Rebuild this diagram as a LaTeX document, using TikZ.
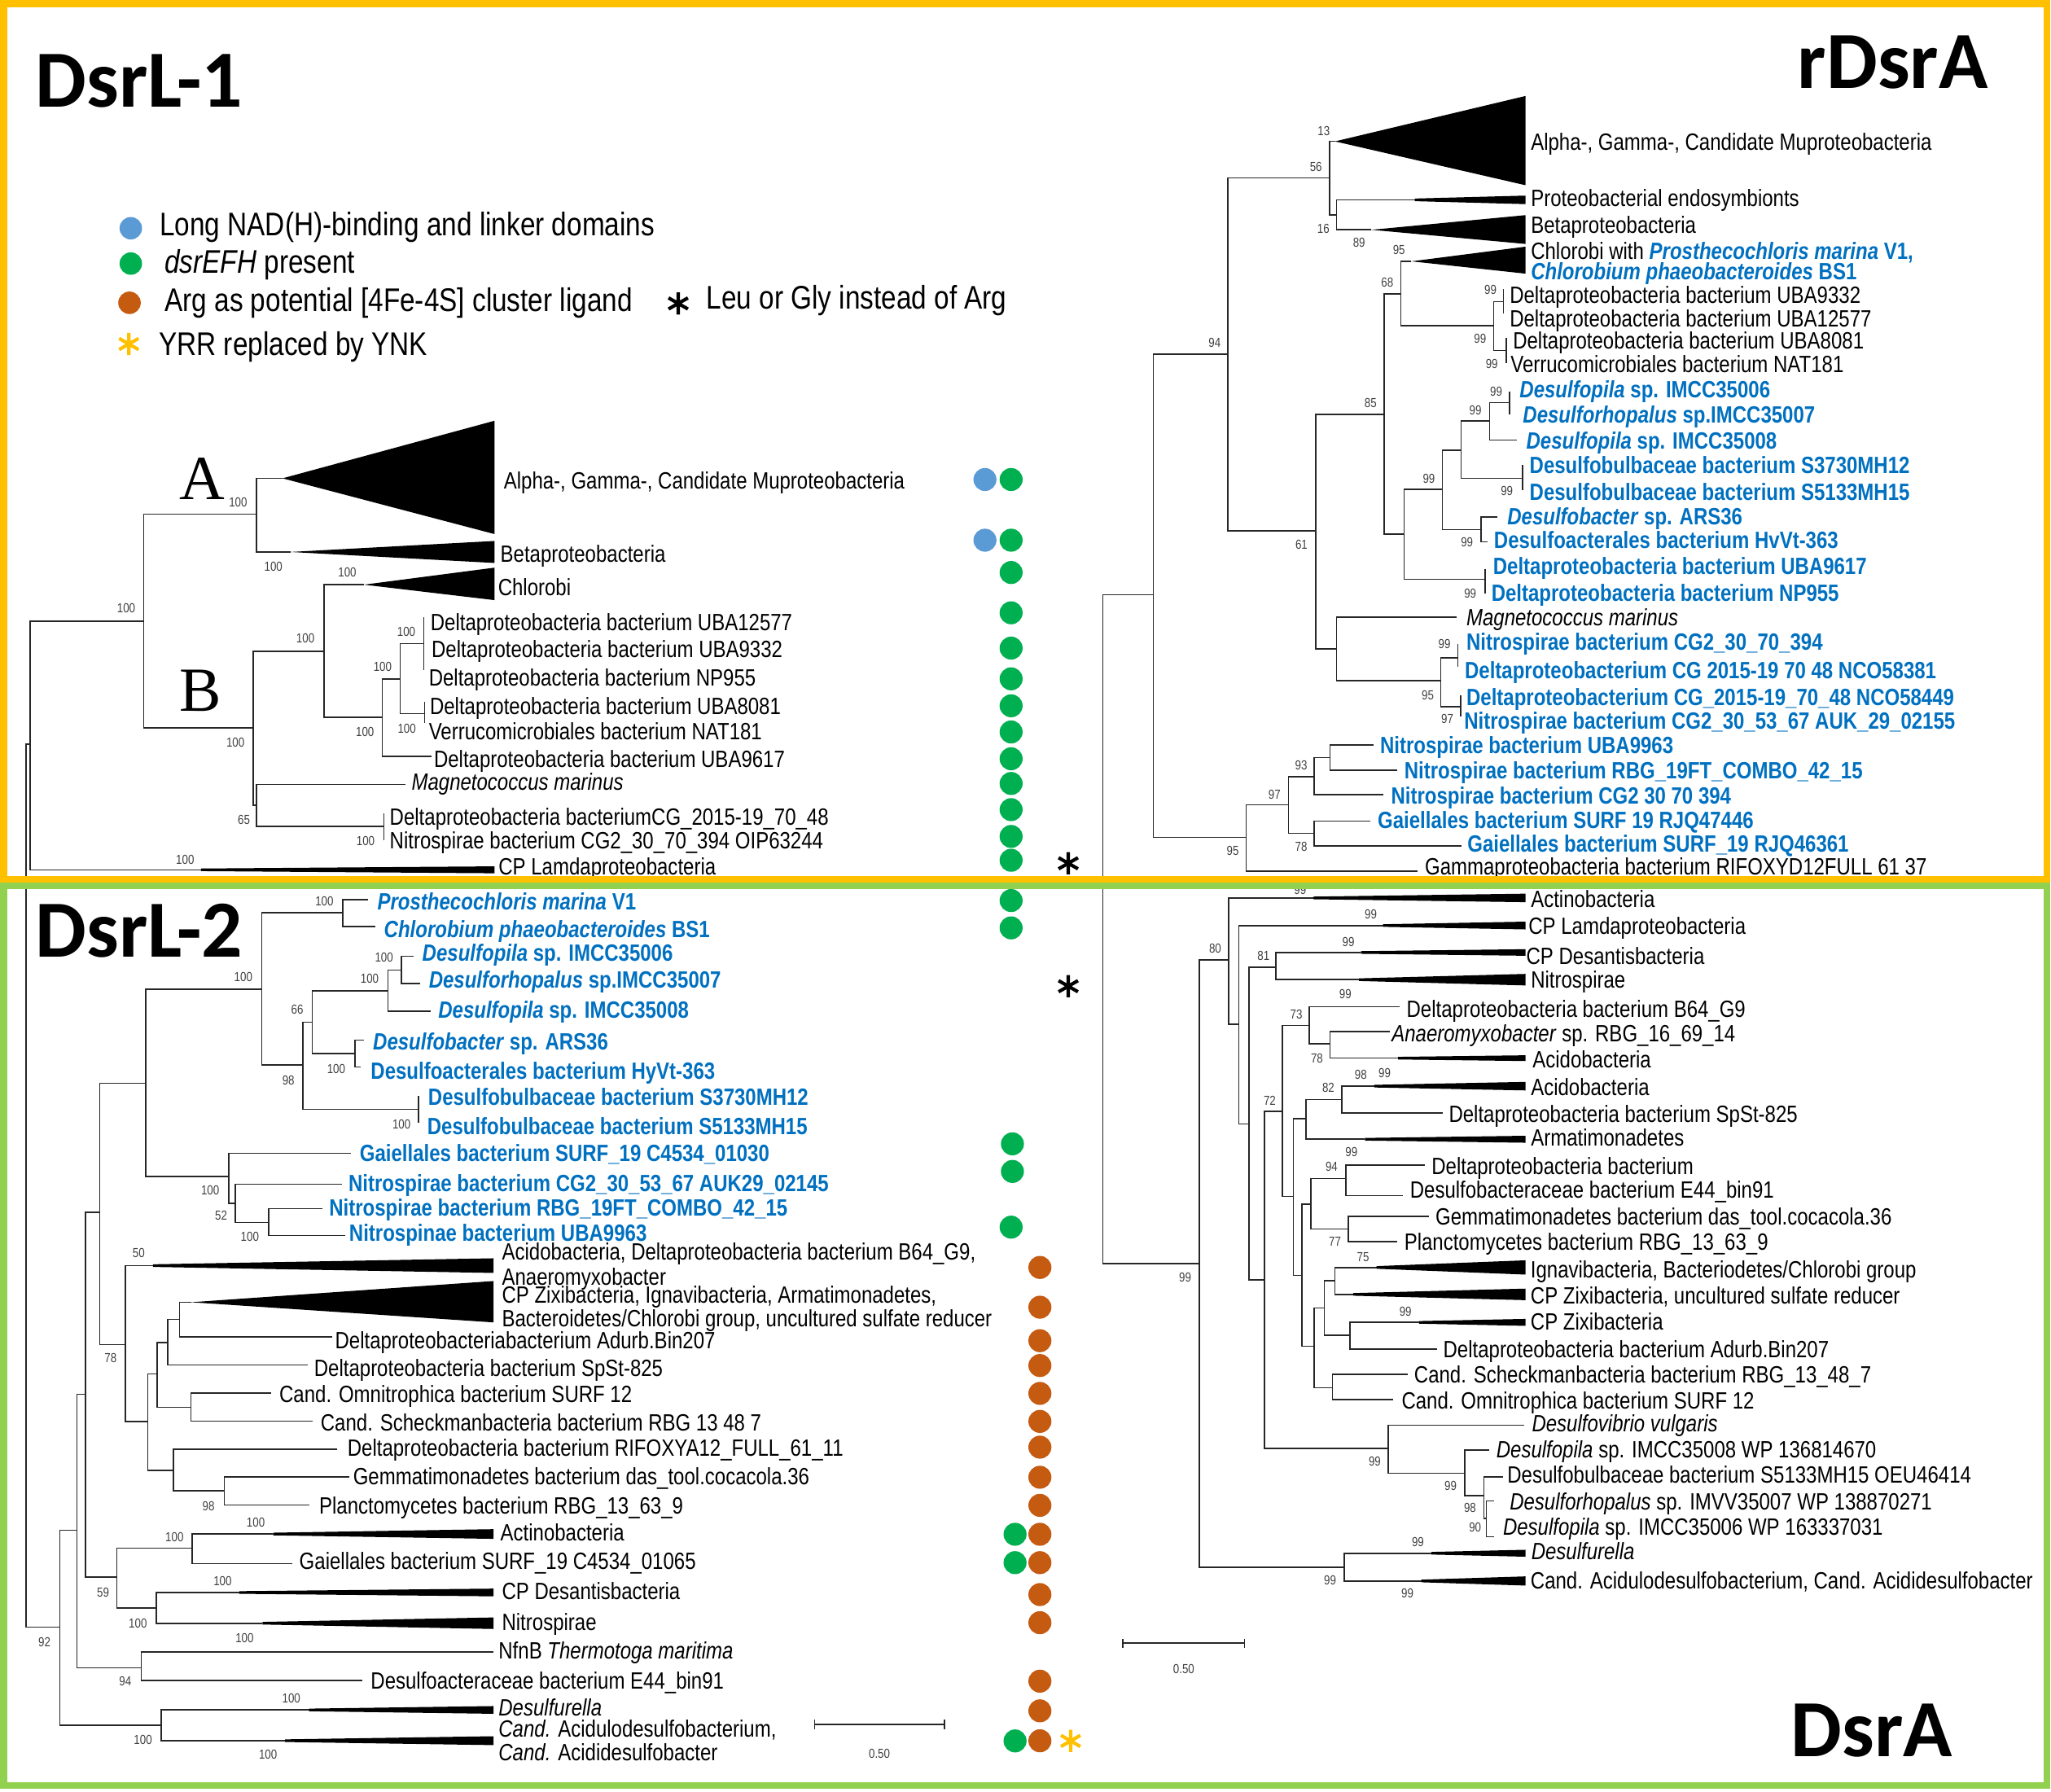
\documentclass[tikz,border=0pt]{standalone}
\usepackage{fontspec}
\setmainfont{Liberation Sans}[FakeStretch=0.83]
\newfontfamily\ttlfont{Carlito}
\newfontfamily\serfont{Liberation Serif}
\usepackage{tikz}
\usetikzlibrary{calc}
\definecolor{tblue}{RGB}{0,112,192}
\definecolor{dotblue}{RGB}{91,155,213}
\definecolor{dotgreen}{RGB}{0,176,80}
\definecolor{dotorange}{RGB}{197,90,17}
\definecolor{frmyellow}{RGB}{255,192,0}
\definecolor{frmgreen}{RGB}{146,208,80}
\tikzset{>=latex}
% collapsed clades: wedge {x0}{x1}{y}{height}, triangle {xa}{ya}{x1}{top}{bottom}
\newcommand\cladewdg[4]{\fill (#1,#3-1) -- (#2,#3-#4/2) -- (#2,#3+#4/2) -- (#1,#3+1) -- cycle;}
\newcommand\cladetri[5]{\fill (#1,#2) -- (#3,#4) -- (#3,#5) -- cycle;}

\begin{document}
\begin{tikzpicture}[
    x = 1pt, y = -1pt,
    br/.style = {draw=black!85, line width=1pt},
    lb/.style = {anchor=base west, inner sep=0pt, font=\fontsize{18}{18}\selectfont},
    bl/.style = {lb, text=tblue, font=\fontsize{18}{18}\selectfont\bfseries},
    bs/.style = {inner sep=0pt, text=black!75, font=\fontsize{10}{10}\selectfont},
    lg/.style = {anchor=base west, inner sep=0pt, font=\fontsize{25}{25}\selectfont},
    ttl/.style = {inner sep=0pt, font=\ttlfont\bfseries\fontsize{62}{62}\selectfont},
    gd/.style = {fill=dotgreen},
    bd/.style = {fill=dotblue},
    od/.style = {fill=dotorange},
    astk/.pic = {\draw[line width=2.6pt] (0,-8.5) -- (0,8.5) (-7.4,-4.25) -- (7.4,4.25) (-7.4,4.25) -- (7.4,-4.25);},
]
\fill[white] (0,0) rectangle (1568,1370);
\useasboundingbox (0,0) rectangle (1568,1370);

% titles and legend
\node[ttl, anchor=base west] (t1) at (27,82) {DsrL-1};
\node[ttl, anchor=base east] (t2) at (1520,67.5) {rDsrA};
\node[ttl, anchor=base west] (t3) at (27,732) {DsrL-2};
\node[ttl, anchor=base east] (t4) at (1493,1343) {DsrA};
\node[anchor=base west, inner sep=0pt, font=\serfont\fontsize{48}{48}\selectfont] (cladeA) at (137,382) {A};
\node[anchor=base west, inner sep=0pt, font=\serfont\fontsize{48}{48}\selectfont] (cladeB) at (137,544) {B};

\fill[bd] (100,174.5) circle (8.6pt);
\fill[gd] (100,201.5) circle (8.6pt);
\fill[od] (99,231.5) circle (8.6pt);
\pic[color=frmyellow] at (98.5,263) {astk};
\pic at (518.5,232) {astk};
\node[lg] (lg1) at (122,180) {Long NAD(H)-binding and linker domains};
\node[lg] (lg2) at (125.8,209) {\textit{dsrEFH} present};
\node[lg] (lg3) at (125.8,238) {Arg as potential [4Fe-4S] cluster ligand};
\node[lg] (lg4) at (540,236.5) {Leu or Gly instead of Arg};
\node[lg] (lg5) at (121.4,271.7) {YRR replaced by YNK};

\begin{scope} % DsrL-1
\draw[br] (22.9,569) -- (19.8,569) -- (19.8,1244) -- (45.7,1244);
\draw[br] (109.8,475) -- (22.9,475) -- (22.9,665) -- (153.7,665);
\draw[br] (196,393) -- (109.8,393) -- (109.8,556.6) -- (193.6,556.6);
\draw[br] (216,365.7) -- (196,365.7) -- (196,422) -- (222,422);
\draw[br] (247.7,497.9) -- (193.6,497.9) -- (193.6,615.8) -- (196,615.8);
\draw[br] (310,599.8) -- (196,599.8) -- (196,631.8) -- (293.5,631.8);
\draw[br] (293.5,621.9) -- (293.5,642.4);
\draw[br] (278.2,447) -- (247.7,447) -- (247.7,548.4) -- (292.2,548.4);
\draw[br] (306,519) -- (292.2,519) -- (292.2,578.4) -- (330,578.4);
\draw[br] (324,492) -- (306,492) -- (306,545.5) -- (324.7,545.5);
\draw[br] (324,472) -- (324,512);
\draw[br] (324.7,536.6) -- (324.7,552.8);
\cladetri{216}{365.7}{378}{321.7}{408.3}
\cladetri{222}{422}{378}{413.6}{430.4}
\cladetri{278.2}{447}{378}{434}{458.8}
\cladewdg{153.7}{378}{665}{5.3}

\node[lb] (p1) at (385,373.7) {Alpha-, Gamma-, Candidate Muproteobacteria};
\node[lb] (p2) at (382.4,429.5) {Betaproteobacteria};
\node[lb] (p3) at (380.6,455.3) {Chlorobi};
\node[lb] (p4) at (329,482.3) {Deltaproteobacteria bacterium UBA12577};
\node[lb] (p5) at (329.8,502.9) {Deltaproteobacteria bacterium UBA9332};
\node[lb] (p6) at (327.7,524.3) {Deltaproteobacteria bacterium NP955};
\node[lb] (p7) at (328.5,546) {Deltaproteobacteria bacterium UBA8081};
\node[lb] (p8) at (327.7,565.4) {Verrucomicrobiales bacterium NAT181};
\node[lb] (p9) at (331.6,586.6) {Deltaproteobacteria bacterium UBA9617};
\node[lb] (p10) at (314.5,604.2) {\textit{Magnetococcus marinus}};
\node[lb] (p11) at (297.8,630.7) {Deltaproteobacteria bacteriumCG\_2015-19\_70\_48};
\node[lb] (p12) at (297.8,649) {Nitrospirae bacterium CG2\_30\_70\_394 OIP63244};
\node[lb] (p13) at (381,668.9) {CP Lamdaproteobacteria};

\node[bs] (pb1) at (141.5,657) {100};
\node[bs] (pb2) at (96.5,465) {100};
\node[bs] (pb3) at (182,384) {100};
\node[bs] (pb4) at (209,433) {100};
\node[bs] (pb5) at (265.5,437.7) {100};
\node[bs] (pb6) at (233.5,488) {100};
\node[bs] (pb7) at (180,567.5) {100};
\node[bs] (pb8) at (186.5,627) {65};
\node[bs] (pb9) at (279.5,643) {100};
\node[bs] (pb10) at (279,559.6) {100};
\node[bs] (pb11) at (292.5,509.6) {100};
\node[bs] (pb12) at (310.6,482.9) {100};
\node[bs] (pb13) at (311,557.2) {100};
\end{scope}

\begin{scope} % DsrL-2
\draw[br] (58.9,1170) -- (45.7,1170) -- (45.7,1319) -- (123.2,1319);
\draw[br] (236.3,1307.3) -- (123.2,1307.3) -- (123.2,1330.8) -- (218,1330.8);
\draw[br] (65.5,1066) -- (58.9,1066) -- (58.9,1275) -- (108,1275);
\draw[br] (377.3,1263.1) -- (108,1263.1) -- (108,1284.6) -- (277,1284.6);
\draw[br] (76.2,927) -- (65.5,927) -- (65.5,1205.8) -- (89.4,1205.8);
\draw[br] (146.9,1183.7) -- (89.4,1183.7) -- (89.4,1229.3) -- (119.4,1229.3);
\draw[br] (208.8,1172.8) -- (146.9,1172.8) -- (146.9,1195.5) -- (223.6,1195.5);
\draw[br] (183,1217.5) -- (119.4,1217.5) -- (119.4,1241) -- (200.7,1241);
\draw[br] (111.3,828.1) -- (76.2,828.1) -- (76.2,1027.9) -- (96,1027.9);
\draw[br] (116.9,967.6) -- (96,967.6) -- (96,1086.7) -- (113,1086.7);
\draw[br] (120,1050.5) -- (113,1050.5) -- (113,1124) -- (132.6,1124);
\draw[br] (128.3,1026.4) -- (120,1026.4) -- (120,1075.9) -- (146,1075.9);
\draw[br] (137.2,1008.8) -- (128.3,1008.8) -- (128.3,1043.5) -- (235,1043.5);
\draw[br] (146,995.6) -- (137.2,995.6) -- (137.2,1022) -- (254,1022);
\draw[br] (207,1065.2) -- (146,1065.2) -- (146,1086.4) -- (238.8,1086.4);
\draw[br] (257.9,1108.1) -- (132.6,1108.1) -- (132.6,1139.6) -- (171.5,1139.6);
\draw[br] (266.8,1129.3) -- (171.5,1129.3) -- (171.5,1150.5) -- (236.3,1150.5);
\draw[br] (200,756.4) -- (111.3,756.4) -- (111.3,899.5) -- (174.8,899.5);
\draw[br] (262.2,697.6) -- (200,697.6) -- (200,814.3) -- (231.7,814.3);
\draw[br] (281.5,688) -- (262.2,688) -- (262.2,708.5) -- (287,708.5);
\draw[br] (238.8,781.4) -- (231.7,781.4) -- (231.7,848) -- (320,848);
\draw[br] (296.7,757.6) -- (238.8,757.6) -- (238.8,805.5) -- (271.3,805.5);
\draw[br] (306.9,741.7) -- (296.7,741.7) -- (296.7,773.1) -- (329,773.1);
\draw[br] (316.3,731.1) -- (306.9,731.1) -- (306.9,752) -- (321.4,752);
\draw[br] (278.2,795.2) -- (271.3,795.2) -- (271.3,815.7) -- (275.7,815.7);
\draw[br] (320,837.8) -- (320,858.3);
\draw[br] (268,881.8) -- (174.8,881.8) -- (174.8,920) -- (179.9,920);
\draw[br] (261.7,905.3) -- (179.9,905.3) -- (179.9,934.6) -- (205.3,934.6);
\draw[br] (246.4,924) -- (205.3,924) -- (205.3,944.7) -- (264.2,944.7);
\cladewdg{116.9}{377.3}{967.6}{11.2}
\cladetri{146}{995.6}{377.3}{979.4}{1011}
\cladewdg{208.8}{377.3}{1172.8}{7.4}
\cladewdg{183}{377.3}{1217.5}{5.9}
\cladewdg{200.7}{377.3}{1241}{8.8}
\cladewdg{236.3}{377.3}{1307.3}{5.9}
\cladewdg{218}{377.3}{1330.8}{6.8}

\node[bl] (q1) at (288.4,695.3) {\textit{Prosthecochloris marina} V1};
\node[bl] (q2) at (293.4,716.7) {\textit{Chlorobium phaeobacteroides} BS1};
\node[bl] (q3) at (322.7,735) {\textit{Desulfopila} sp. IMCC35006};
\node[bl] (q4) at (327.7,755.5) {\textit{Desulforhopalus} sp.IMCC35007};
\node[bl] (q5) at (334.9,778.1) {\textit{Desulfopila} sp. IMCC35008};
\node[bl] (q6) at (285,802.5) {\textit{Desulfobacter} sp. ARS36};
\node[bl] (q7) at (283.3,825) {Desulfoacterales bacterium HyVt-363};
\node[bl] (q8) at (327.2,845) {Desulfobulbaceae bacterium S3730MH12};
\node[bl] (q9) at (326.5,867.2) {Desulfobulbaceae bacterium S5133MH15};
\node[bl] (q10) at (274.9,887.7) {Gaiellales bacterium SURF\_19 C4534\_01030};
\node[bl] (q11) at (266.3,911.2) {Nitrospirae bacterium CG2\_30\_53\_67 AUK29\_02145};
\node[bl] (q12) at (251.5,929.4) {Nitrospirae bacterium RBG\_19FT\_COMBO\_42\_15};
\node[bl] (q13) at (266.8,949) {Nitrospinae bacterium UBA9963};
\node[lb] (q14) at (383.6,963.2) {Acidobacteria, Deltaproteobacteria bacterium B64\_G9,};
\node[lb] (q15) at (383.6,982.3) {Anaeromyxobacter};
\node[lb] (q16) at (383.6,996.4) {CP Zixibacteria, Ignavibacteria, Armatimonadetes,};
\node[lb] (q17) at (383.6,1014) {Bacteroidetes/Chlorobi group, uncultured sulfate reducer};
\node[lb] (q18) at (256,1030.8) {Deltaproteobacteriabacterium Adurb.Bin207};
\node[lb] (q19) at (240,1052.2) {Deltaproteobacteria bacterium SpSt-825};
\node[lb] (q20) at (213.4,1072) {Cand. Omnitrophica bacterium SURF 12};
\node[lb] (q21) at (245,1094) {Cand. Scheckmanbacteria bacterium RBG 13 48 7};
\node[lb] (q22) at (265.5,1113.1) {Deltaproteobacteria bacterium RIFOXYA12\_FULL\_61\_11};
\node[lb] (q23) at (269.8,1135.2) {Gemmatimonadetes bacterium das\_tool.cocacola.36};
\node[lb] (q24) at (243.9,1157.2) {Planctomycetes bacterium RBG\_13\_63\_9};
\node[lb] (q25) at (382.4,1178) {Actinobacteria};
\node[lb] (q26) at (228.7,1200) {Gaiellales bacterium SURF\_19 C4534\_01065};
\node[lb] (q27) at (383.6,1222.8) {CP Desantisbacteria};
\node[lb] (q28) at (383.6,1246.3) {Nitrospirae};
\node[lb] (q29) at (381,1268.1) {NfnB \textit{Thermotoga maritima}};
\node[lb] (q30) at (283.3,1291) {Desulfoacteraceae bacterium E44\_bin91};
\node[lb] (q31) at (381,1311.6) {\textit{Desulfurella}};
\node[lb] (q32) at (381,1327.8) {\textit{Cand.} Acidulodesulfobacterium,};
\node[lb] (q33) at (381,1346.3) {\textit{Cand.} Acididesulfobacter};

\node[bs] (qb1) at (248,688.8) {100};
\node[bs] (qb2) at (186,746.7) {100};
\node[bs] (qb3) at (293.6,732) {100};
\node[bs] (qb4) at (282.6,748.2) {100};
\node[bs] (qb5) at (227.2,772) {66};
\node[bs] (qb6) at (257,817.2) {100};
\node[bs] (qb7) at (220.5,826) {98};
\node[bs] (qb8) at (307,859.8) {100};
\node[bs] (qb9) at (160.7,910) {100};
\node[bs] (qb10) at (169,929.4) {52};
\node[bs] (qb11) at (191,945.5) {100};
\node[bs] (qb12) at (106,958) {50};
\node[bs] (qb13) at (84.5,1038.2) {78};
\node[bs] (qb14) at (159.4,1151.4) {98};
\node[bs] (qb15) at (195.5,1164) {100};
\node[bs] (qb16) at (133.4,1175) {100};
\node[bs] (qb17) at (78.8,1217.5) {59};
\node[bs] (qb18) at (170.2,1208.8) {100};
\node[bs] (qb19) at (105.4,1241.2) {100};
\node[bs] (qb20) at (187,1252.3) {100};
\node[bs] (qb21) at (34,1255.6) {92};
\node[bs] (qb22) at (95.8,1285.2) {94};
\node[bs] (qb23) at (222.7,1298.4) {100};
\node[bs] (qb24) at (109.3,1330) {100};
\node[bs] (qb25) at (204.9,1341.6) {100};

\draw[br] (622.8,1314.8) -- (622.8,1322) (622.8,1318.4) -- (721.9,1318.4) (721.9,1314.8) -- (721.9,1322);
\node[bs] (sc1) at (672.3,1341) {0.50};
\end{scope}

% marks
\fill[bd] (753,366.6) circle (8.8pt);  \fill[bd] (753,413) circle (8.8pt);
\fill[gd] (773,366.6) circle (8.8pt);  \fill[gd] (773,413) circle (8.8pt);
\fill[gd] (773,437.7) circle (8.8pt);  \fill[gd] (773,468.5) circle (8.8pt);
\fill[gd] (773,495.5) circle (8.8pt);  \fill[gd] (773,519) circle (8.8pt);
\fill[gd] (773,539.6) circle (8.8pt);  \fill[gd] (773,559.6) circle (8.8pt);
\fill[gd] (773,580.1) circle (8.8pt);  \fill[gd] (773,599) circle (8.8pt);
\fill[gd] (773,619) circle (8.8pt);    \fill[gd] (773,639.5) circle (8.8pt);
\fill[gd] (773,657.7) circle (8.8pt);  \fill[gd] (773,688.5) circle (8.8pt);
\fill[gd] (773,709.4) circle (8.8pt);  \fill[gd] (774,874.5) circle (8.8pt);
\fill[gd] (774,895.6) circle (8.8pt);  \fill[gd] (773,938.2) circle (8.8pt);
\fill[gd] (776,1173) circle (8.8pt);   \fill[gd] (776,1194.7) circle (8.8pt);
\fill[gd] (776,1331) circle (8.8pt);
\fill[od] (795,969) circle (8.8pt);    \fill[od] (795,999.4) circle (8.8pt);
\fill[od] (795,1025) circle (8.8pt);   \fill[od] (795,1044) circle (8.8pt);
\fill[od] (795,1065.3) circle (8.8pt); \fill[od] (795,1086.7) circle (8.8pt);
\fill[od] (795,1106.4) circle (8.8pt); \fill[od] (795,1129.4) circle (8.8pt);
\fill[od] (795,1150.9) circle (8.8pt); \fill[od] (795,1173) circle (8.8pt);
\fill[od] (795,1194.7) circle (8.8pt); \fill[od] (795,1219.1) circle (8.8pt);
\fill[od] (795,1240.6) circle (8.8pt); \fill[od] (795,1285.3) circle (8.8pt);
\fill[od] (795,1308) circle (8.8pt);   \fill[od] (795,1330.9) circle (8.8pt);
\pic at (816.7,660) {astk};
\pic at (816.7,754) {astk};
\pic[color=frmyellow] at (818.5,1331) {astk};

\begin{scope} % rDsrA
\draw[br] (881.6,454.8) -- (843.2,454.8) -- (843.2,966.1) -- (917,966.1);
\draw[br] (938.5,270.9) -- (881.6,270.9) -- (881.6,640.1) -- (952.7,640.1);
\draw[br] (1016.4,136) -- (938.5,136) -- (938.5,406) -- (1005.8,406);
\draw[br] (1020.6,108.1) -- (1016.4,108.1) -- (1016.4,164.5) -- (1021.8,164.5);
\draw[br] (1081.6,152.8) -- (1021.8,152.8) -- (1021.8,175.7) -- (1048.5,175.7);
\draw[br] (1058.2,316.7) -- (1005.8,316.7) -- (1005.8,496.1) -- (1021.8,496.1);
\draw[br] (1071,224.7) -- (1058.2,224.7) -- (1058.2,408.3) -- (1073.4,408.3);
\draw[br] (1079,199.8) -- (1071,199.8) -- (1071,249) -- (1142,249);
\draw[br] (1149.4,230.6) -- (1142,230.6) -- (1142,268) -- (1151.4,268);
\draw[br] (1149.4,221) -- (1149.4,239.4);
\draw[br] (1151.4,258.5) -- (1151.4,277.6);
\draw[br] (1102.6,374) -- (1073.4,374) -- (1073.4,443) -- (1135.4,443);
\draw[br] (1135.4,434.8) -- (1135.4,453.9);
\draw[br] (1117.1,344.3) -- (1102.6,344.3) -- (1102.6,404.8) -- (1132.4,404.8);
\draw[br] (1138.7,321.7) -- (1117.1,321.7) -- (1117.1,365.7) -- (1164.1,365.7);
\draw[br] (1164.1,355.5) -- (1164.1,374.6);
\draw[br] (1154,307.9) -- (1138.7,307.9) -- (1138.7,336.4) -- (1159.8,336.4);
\draw[br] (1154,299.6) -- (1154,316.7);
\draw[br] (1145,395.1) -- (1132.4,395.1) -- (1132.4,414.2) -- (1137.5,414.2);
\draw[br] (1113.3,472) -- (1021.8,472) -- (1021.8,520.5) -- (1101.4,520.5);
\draw[br] (1114.6,502.9) -- (1101.4,502.9) -- (1101.4,540.2) -- (1116.6,540.2);
\draw[br] (1114.6,492.6) -- (1114.6,509.6);
\draw[br] (1116.6,531.4) -- (1116.6,547.8);
\draw[br] (985,615.4) -- (952.7,615.4) -- (952.7,665.9) -- (1084,665.9);
\draw[br] (1004.8,593.9) -- (985,593.9) -- (985,637.1) -- (1004.8,637.1);
\draw[br] (1016.8,579.3) -- (1004.8,579.3) -- (1004.8,607.7) -- (1057.4,607.7);
\draw[br] (1049.8,569.6) -- (1016.8,569.6) -- (1016.8,589) -- (1068.4,589);
\draw[br] (1047.3,627.7) -- (1004.8,627.7) -- (1004.8,646.8) -- (1117.6,646.8);
\cladetri{1020.6}{108.1}{1166.2}{73.4}{141.6}
\cladewdg{1081.6}{1166.2}{152.8}{6.5}
\cladetri{1048.5}{175.7}{1166.2}{164.5}{186.5}
\cladetri{1079}{199.8}{1166.2}{188.6}{209.2}

\node[lb] (r1) at (1170.2,114.6) {Alpha-, Gamma-, Candidate Muproteobacteria};
\node[lb] (r2) at (1170.2,158) {Proteobacterial endosymbionts};
\node[lb] (r3) at (1170.2,178.6) {Betaproteobacteria};
\node[lb] (r4) at (1170.2,198.3) {Chlorobi with \textcolor{tblue}{\bfseries\itshape Prosthecochloris marina} \textcolor{tblue}{\bfseries V1,}};
\node[lb] (r5) at (1170.2,213.9) {\textcolor{tblue}{\bfseries\itshape Chlorobium phaeobacteroides} \textcolor{tblue}{\bfseries BS1}};
\node[lb] (r6) at (1154,232) {Deltaproteobacteria bacterium UBA9332};
\node[lb] (r7) at (1154,249.7) {Deltaproteobacteria bacterium UBA12577};
\node[lb] (r8) at (1156.5,266.7) {Deltaproteobacteria bacterium UBA8081};
\node[lb] (r9) at (1154.7,285) {Verrucomicrobiales bacterium NAT181};
\node[bl] (r10) at (1161.6,304) {\textit{Desulfopila} sp. IMCC35006};
\node[bl] (r11) at (1164.1,323.1) {\textit{Desulforhopalus} sp.IMCC35007};
\node[bl] (r12) at (1166.7,343.1) {\textit{Desulfopila} sp. IMCC35008};
\node[bl] (r13) at (1169.2,362) {Desulfobulbaceae bacterium S3730MH12};
\node[bl] (r14) at (1169.2,382.5) {Desulfobulbaceae bacterium S5133MH15};
\node[bl] (r15) at (1152.2,401) {\textit{Desulfobacter} sp. ARS36};
\node[bl] (r16) at (1142,419.5) {Desulfoacterales bacterium HvVt-363};
\node[bl] (r17) at (1141.3,439.2) {Deltaproteobacteria bacterium UBA9617};
\node[bl] (r18) at (1140,459.8) {Deltaproteobacteria bacterium NP955};
\node[lb] (r19) at (1120.9,478.5) {\textit{Magnetococcus marinus}};
\node[bl] (r20) at (1120.9,497) {Nitrospirae bacterium CG2\_30\_70\_394};
\node[bl] (r21) at (1119.7,519) {Deltaproteobacterium CG 2015-19 70 48 NCO58381};
\node[bl] (r22) at (1120.9,539.6) {Deltaproteobacterium CG\_2015-19\_70\_48 NCO58449};
\node[bl] (r23) at (1119.2,557.2) {Nitrospirae bacterium CG2\_30\_53\_67 AUK\_29\_02155};
\node[bl] (r24) at (1054.9,576.3) {Nitrospirae bacterium UBA9963};
\node[bl] (r25) at (1073.4,595.4) {Nitrospirae bacterium RBG\_19FT\_COMBO\_42\_15};
\node[bl] (r26) at (1063.3,614.5) {Nitrospirae bacterium CG2 30 70 394};
\node[bl] (r27) at (1053.1,633.6) {Gaiellales bacterium SURF 19 RJQ47446};
\node[bl] (r28) at (1121.7,651.2) {Gaiellales bacterium SURF\_19 RJQ46361};
\node[lb] (r29) at (1089.2,668.9) {Gammaproteobacteria bacterium RIFOXYD12FULL 61 37};

\node[bs] (rb1) at (1012,99.9) {13};
\node[bs] (rb2) at (1006,127.8) {56};
\node[bs] (rb3) at (1011.7,174.8) {16};
\node[bs] (rb4) at (1039,185.7) {89};
\node[bs] (rb5) at (1069.5,191) {95};
\node[bs] (rb6) at (1060.6,216) {68};
\node[bs] (rb7) at (1139.5,221.8) {99};
\node[bs] (rb8) at (1131.5,259) {99};
\node[bs] (rb9) at (1140.5,278.5) {99};
\node[bs] (rb10) at (928.6,262.3) {94};
\node[bs] (rb11) at (1047.8,307.9) {85};
\node[bs] (rb12) at (1143.8,299.6) {99};
\node[bs] (rb13) at (1128,313.7) {99};
\node[bs] (rb14) at (1092.4,365.7) {99};
\node[bs] (rb15) at (1152,375.4) {99};
\node[bs] (rb16) at (1121.5,414.8) {99};
\node[bs] (rb17) at (1124,453.9) {99};
\node[bs] (rb18) at (995,416.6) {61};
\node[bs] (rb19) at (1104.3,492.6) {99};
\node[bs] (rb20) at (1091.5,531.4) {95};
\node[bs] (rb21) at (1106.5,549.9) {97};
\node[bs] (rb22) at (994.7,585.1) {93};
\node[bs] (rb23) at (974.4,607.2) {97};
\node[bs] (rb24) at (942.5,650.6) {95};
\node[bs] (rb25) at (994.7,647.4) {78};
\node[bs] (rb26) at (906,976.4) {99};
\end{scope}

\begin{scope} % DsrA
\draw[br] (939.3,734) -- (917,734) -- (917,1198.4) -- (1027.7,1198.4);
\draw[br] (1004,686.5) -- (939.3,686.5) -- (939.3,782.9) -- (947,782.9);
\draw[br] (1057.4,707.6) -- (947,707.6) -- (947,859.2) -- (955,859.2);
\draw[br] (975.4,739.4) -- (955,739.4) -- (955,978.5) -- (966.7,978.5);
\draw[br] (1040.4,728.2) -- (975.4,728.2) -- (975.4,749) -- (1039,749);
\draw[br] (980.4,849.5) -- (966.7,849.5) -- (966.7,1107.3) -- (1061.2,1107.3);
\draw[br] (1000.8,784) -- (980.4,784) -- (980.4,914.6) -- (988.8,914.6);
\draw[br] (1070.1,769.6) -- (1000.8,769.6) -- (1000.8,798.1) -- (1016.8,798.1);
\draw[br] (1062.5,788.7) -- (1016.8,788.7) -- (1016.8,809) -- (1068.9,809);
\draw[br] (998.5,855.4) -- (988.8,855.4) -- (988.8,975) -- (995.2,975);
\draw[br] (1025.7,840.7) -- (998.5,840.7) -- (998.5,871) -- (1043.4,871);
\draw[br] (1050.6,830.4) -- (1025.7,830.4) -- (1025.7,851) -- (1103.1,851);
\draw[br] (1002.3,920.5) -- (995.2,920.5) -- (995.2,1029.3) -- (1004.8,1029.3);
\draw[br] (1029,901) -- (1002.3,901) -- (1002.3,939.5) -- (1030.7,939.5);
\draw[br] (1089.2,890.7) -- (1029,890.7) -- (1029,914.2) -- (1072.7,914.2);
\draw[br] (1092.2,929.9) -- (1030.7,929.9) -- (1030.7,949.3) -- (1068.4,949.3);
\draw[br] (1012.4,1000) -- (1004.8,1000) -- (1004.8,1061) -- (1018.6,1061);
\draw[br] (1020.6,979.3) -- (1012.4,979.3) -- (1012.4,1021) -- (1032,1021);
\draw[br] (1052.3,969) -- (1020.6,969) -- (1020.6,989.6) -- (1034.6,989.6);
\draw[br] (1084.9,1011) -- (1032,1011) -- (1032,1031.6) -- (1098.8,1031.6);
\draw[br] (1076,1050.7) -- (1018.6,1050.7) -- (1018.6,1069.9) -- (1065,1069.9);
\draw[br] (1165.4,1089.6) -- (1061.2,1089.6) -- (1061.2,1126.3) -- (1119.7,1126.3);
\draw[br] (1138.2,1108.7) -- (1119.7,1108.7) -- (1119.7,1143.4) -- (1134.4,1143.4);
\draw[br] (1148.9,1129.3) -- (1134.4,1129.3) -- (1134.4,1161) -- (1136.2,1161);
\draw[br] (1142,1147.5) -- (1136.2,1147.5) -- (1136.2,1175) -- (1142.5,1175);
\draw[br] (1094.3,1187.5) -- (1027.7,1187.5) -- (1027.7,1208.7) -- (1086.6,1208.7);
\cladewdg{1004}{1166.2}{686.5}{6.5}
\cladewdg{1057.4}{1166.2}{707.6}{5.9}
\cladewdg{1040.4}{1166.2}{728.2}{5}
\cladewdg{1039}{1166.2}{749}{8.8}
\cladewdg{1068.9}{1166.2}{809}{4.4}
\cladewdg{1050.6}{1166.2}{830.4}{6.5}
\cladewdg{1043.4}{1166.2}{871}{5.3}
\cladewdg{1052.3}{1166.2}{969}{10.9}
\cladewdg{1034.6}{1166.2}{989.6}{8.8}
\cladewdg{1084.9}{1166.2}{1011}{5.3}
\cladewdg{1094.3}{1166.2}{1187.5}{5.3}
\cladewdg{1086.6}{1166.2}{1208.7}{7}

\node[lb] (s1) at (1170.2,693.8) {Actinobacteria};
\node[lb] (s2) at (1168.4,714.4) {CP Lamdaproteobacteria};
\node[lb] (s3) at (1166.7,737) {CP Desantisbacteria};
\node[lb] (s4) at (1170.2,755.5) {Nitrospirae};
\node[lb] (s5) at (1075.2,777.5) {Deltaproteobacteria bacterium B64\_G9};
\node[lb] (s6) at (1063.8,796.6) {\textit{Anaeromyxobacter} sp. RBG\_16\_69\_14};
\node[lb] (s7) at (1171.5,816.3) {Acidobacteria};
\node[lb] (s8) at (1170.2,837.8) {Acidobacteria};
\node[lb] (s9) at (1107.5,858.3) {Deltaproteobacteria bacterium SpSt-825};
\node[lb] (s10) at (1170.2,876) {Armatimonadetes};
\node[lb] (s11) at (1094.3,898) {Deltaproteobacteria bacterium};
\node[lb] (s12) at (1077.8,916) {Desulfobacteraceae bacterium E44\_bin91};
\node[lb] (s13) at (1097.3,936.6) {Gemmatimonadetes bacterium das\_tool.cocacola.36};
\node[lb] (s14) at (1073.4,955.8) {Planctomycetes bacterium RBG\_13\_63\_9};
\node[lb] (s15) at (1170,976.9) {Ignavibacteria, Bacteriodetes/Chlorobi group};
\node[lb] (s16) at (1170,997) {CP Zixibacteria, uncultured sulfate reducer};
\node[lb] (s17) at (1170,1017) {CP Zixibacteria};
\node[lb] (s18) at (1103.2,1038.1) {Deltaproteobacteria bacterium Adurb.Bin207};
\node[lb] (s19) at (1081,1057.2) {Cand. Scheckmanbacteria bacterium RBG\_13\_48\_7};
\node[lb] (s20) at (1071.4,1077) {Cand. Omnitrophica bacterium SURF 12};
\node[lb] (s21) at (1171,1094.6) {\textit{Desulfovibrio vulgaris}};
\node[lb] (s22) at (1143.8,1114.6) {\textit{Desulfopila} sp. IMCC35008 WP 136814670};
\node[lb] (s23) at (1152.2,1133.7) {Desulfobulbaceae bacterium S5133MH15 OEU46414};
\node[lb] (s24) at (1154,1154.3) {\textit{Desulforhopalus} sp. IMVV35007 WP 138870271};
\node[lb] (s25) at (1148.9,1173.4) {\textit{Desulfopila} sp. IMCC35006 WP 163337031};
\node[lb] (s26) at (1170.5,1192.5) {\textit{Desulfurella}};
\node[lb] (s27) at (1170,1214.6) {Cand. Acidulodesulfobacterium, Cand. Acididesulfobacter};

\node[bs] (sb1) at (994,680.6) {99};
\node[bs] (sb2) at (1048,698.8) {99};
\node[bs] (sb3) at (1030.8,720.3) {99};
\node[bs] (sb4) at (929,725.3) {80};
\node[bs] (sb5) at (966,730.5) {81};
\node[bs] (sb6) at (1028.5,760) {99};
\node[bs] (sb7) at (991,775.5) {73};
\node[bs] (sb8) at (1006.8,809) {78};
\node[bs] (sb9) at (1040.3,821.6) {98};
\node[bs] (sb10) at (1058.5,820.1) {99};
\node[bs] (sb11) at (1015.5,831.3) {82};
\node[bs] (sb12) at (970.7,841.6) {72};
\node[bs] (sb13) at (1033.2,881) {99};
\node[bs] (sb14) at (1018,892) {94};
\node[bs] (sb15) at (1020.6,949.3) {77};
\node[bs] (sb16) at (1042,961) {75};
\node[bs] (sb17) at (1074.5,1002.8) {99};
\node[bs] (sb18) at (1051,1117.5) {99};
\node[bs] (sb19) at (1109,1135.8) {99};
\node[bs] (sb20) at (1123.8,1152.8) {98};
\node[bs] (sb21) at (1127.7,1167.5) {90};
\node[bs] (sb22) at (1084,1178.7) {99};
\node[bs] (sb23) at (1016.8,1208.1) {99};
\node[bs] (sb24) at (1076,1218.1) {99};

\draw[br] (858.5,1252.8) -- (858.5,1259.8) (858.5,1256.3) -- (951.5,1256.3) (951.5,1252.8) -- (951.5,1259.8);
\node[bs] (sc2) at (905,1276.3) {0.50};
\end{scope}

% frames
\draw[draw=frmyellow, line width=5pt] (2.8,2.8) rectangle (1565,672);
\draw[draw=frmgreen, line width=5pt] (2.8,677.5) rectangle (1565,1365.3);
\end{tikzpicture}
\end{document}
